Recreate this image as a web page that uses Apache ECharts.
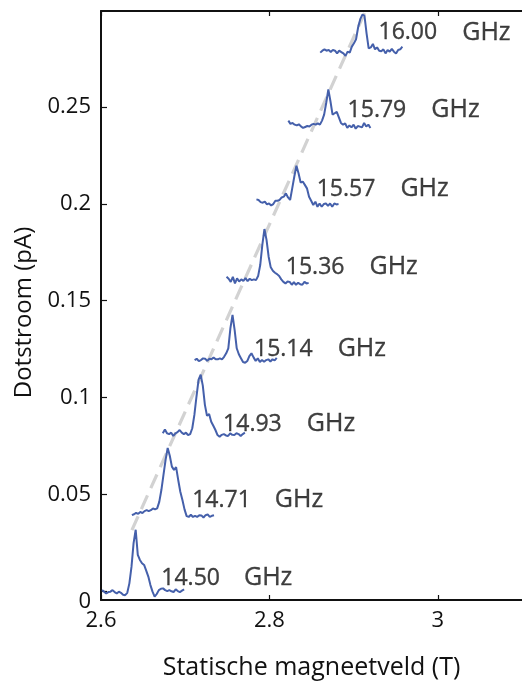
<!DOCTYPE html>
<html>
<head>
<meta charset="utf-8">
<script src="https://cdn.jsdelivr.net/npm/echarts@6/dist/echarts.min.js"></script>
<style>
html,body{margin:0;padding:0;background:#fff;}
#chart{width:522px;height:687px;}
</style>
</head>
<body>
<div id="chart"></div>
<script>
// ---- data ----
const freqLabels = ['14.50', '14.71', '14.93', '15.14', '15.36', '15.57', '15.79', '16.00'];
// start field (T) of each sweep, sampling step (T)
const xStart = [2.6012, 2.6367, 2.6734, 2.7112, 2.7491, 2.7846, 2.8225, 2.8604];
const xStep = 0.0025;
// vertical offset (pA) of each sweep
const baselines = [-0.0005, 0.0387, 0.0811, 0.1193, 0.1606, 0.2011, 0.2409, 0.2786];
// dot current relative to each sweep's offset (pA)
const trace1450 = [0.0010, 0.0002, -0.0007, 0.0000, 0.0002, 0.0010, 0.0000, -0.0007, 0.0002, -0.0004, -0.0014, -0.0016, -0.0004, 0.0045, 0.0130, 0.0253, 0.0322, 0.0192, 0.0166, 0.0149, 0.0140, 0.0111, 0.0080, 0.0036, 0.0002, -0.0024, -0.0010, 0.0010, 0.0017, 0.0019, 0.0010, 0.0005, 0.0010, 0.0004, 0.0000, 0.0014, 0.0005, 0.0000, 0.0007, 0.0014];
const trace1471 = [0.0005, 0.0010, 0.0017, 0.0012, 0.0022, 0.0016, 0.0026, 0.0031, 0.0026, 0.0031, 0.0040, 0.0035, 0.0040, 0.0074, 0.0135, 0.0213, 0.0291, 0.0352, 0.0312, 0.0256, 0.0239, 0.0253, 0.0187, 0.0126, 0.0083, 0.0035, 0.0000, -0.0004, 0.0007, -0.0004, 0.0002, -0.0004, 0.0005, 0.0004, -0.0007, 0.0005, 0.0009, -0.0004, 0.0002, 0.0005];
const trace1493 = [0.0004, 0.0024, 0.0004, 0.0000, 0.0007, -0.0010, 0.0004, 0.0010, 0.0021, 0.0007, 0.0000, 0.0007, -0.0005, 0.0000, 0.0030, 0.0099, 0.0194, 0.0281, 0.0307, 0.0250, 0.0151, 0.0094, 0.0104, 0.0064, 0.0043, 0.0021, -0.0005, -0.0014, -0.0004, 0.0000, -0.0007, -0.0010, 0.0004, -0.0004, -0.0005, 0.0004, 0.0000, -0.0010, 0.0000, 0.0007];
const trace1514 = [0.0000, 0.0007, -0.0005, 0.0000, 0.0009, 0.0007, -0.0004, 0.0007, 0.0004, 0.0014, 0.0004, 0.0004, 0.0009, 0.0004, 0.0017, 0.0035, 0.0061, 0.0165, 0.0234, 0.0156, 0.0061, 0.0030, 0.0010, -0.0010, -0.0014, -0.0005, 0.0021, 0.0035, 0.0014, -0.0004, 0.0009, -0.0010, 0.0000, -0.0009, 0.0000, 0.0004, -0.0007, 0.0004, -0.0002, 0.0012];
const trace1536 = [0.0017, 0.0007, -0.0009, 0.0017, -0.0017, 0.0009, -0.0007, 0.0004, -0.0004, 0.0010, -0.0005, 0.0007, 0.0000, 0.0004, 0.0000, 0.0021, 0.0078, 0.0182, 0.0264, 0.0208, 0.0121, 0.0066, 0.0048, 0.0038, 0.0031, 0.0021, 0.0004, -0.0009, -0.0017, -0.0007, -0.0009, -0.0024, -0.0010, -0.0024, -0.0014, -0.0021, -0.0024, -0.0009, -0.0017, -0.0014];
const trace1557 = [0.0012, 0.0009, -0.0002, -0.0005, 0.0000, -0.0014, -0.0009, -0.0019, -0.0012, 0.0005, 0.0005, 0.0009, 0.0022, 0.0026, 0.0043, 0.0022, 0.0009, 0.0069, 0.0130, 0.0186, 0.0147, 0.0099, 0.0104, 0.0087, 0.0069, 0.0026, 0.0005, -0.0017, 0.0000, -0.0026, -0.0009, -0.0026, -0.0012, -0.0009, -0.0022, -0.0009, -0.0026, -0.0009, -0.0014, -0.0012];
const trace1579 = [0.0021, 0.0004, 0.0009, 0.0000, -0.0004, 0.0002, -0.0009, -0.0017, -0.0012, -0.0007, -0.0009, 0.0000, 0.0004, 0.0000, 0.0007, 0.0000, 0.0021, 0.0052, 0.0113, 0.0182, 0.0121, 0.0052, 0.0059, 0.0066, 0.0038, 0.0009, 0.0000, 0.0007, -0.0017, -0.0004, -0.0014, 0.0000, -0.0021, -0.0007, -0.0010, -0.0014, 0.0009, -0.0009, 0.0000, -0.0017];
const trace1600 = [-0.0005, 0.0005, 0.0012, 0.0005, 0.0009, -0.0002, 0.0009, 0.0005, -0.0009, 0.0005, -0.0002, -0.0009, -0.0022, 0.0000, -0.0005, 0.0026, 0.0043, 0.0064, 0.0126, 0.0168, 0.0191, 0.0186, 0.0095, 0.0017, 0.0022, 0.0040, 0.0012, 0.0022, 0.0005, 0.0002, 0.0012, -0.0009, 0.0009, 0.0000, 0.0014, 0.0000, -0.0009, 0.0009, 0.0012, 0.0026];
const traces = [trace1450, trace1471, trace1493, trace1514, trace1536, trace1557, trace1579, trace1600];
// guide line through the resonance peaks
const fitX = [2.6367, 2.9136];
const fitY = [0.0315, 0.2991];
// frequency annotation anchors
const labelX = [2.6710, 2.7077, 2.7444, 2.7811, 2.8189, 2.8556, 2.8923, 2.9290];
const unitX = [2.7692, 2.8059, 2.8438, 2.8805, 2.9183, 2.9550, 2.9917, 3.0284];
const labelY = [0.0067, 0.0470, 0.0863, 0.1250, 0.1674, 0.2076, 0.2484, 0.2885];
// axis ticks
const xTicks = [2.6, 2.8, 3.0];
const yTicks = [0, 0.05, 0.1, 0.15, 0.2, 0.25];

// ---- chart ----
const FONT = 'Open Sans';
const TXT = '#111111';
const chart = echarts.init(document.getElementById('chart'), null, {renderer: 'canvas'});

const series = [];
series.push({
  type: 'line', name: 'fit', z: 1,
  data: fitX.map((x, i) => [x, fitY[i]]),
  showSymbol: false, symbol: 'none',
  lineStyle: {color: '#d2d2d2', width: 3.2, type: [15, 8]},
  silent: true
});
traces.forEach((tr, k) => {
  series.push({
    type: 'line', name: freqLabels[k], z: 3,
    data: tr.map((v, i) => [xStart[k] + i * xStep, baselines[k] + v]),
    showSymbol: false, symbol: 'none',
    lineStyle: {color: '#4560ab', width: 2},
    silent: true
  });
});
const annoText = {show: true, position: 'right', distance: 0, color: TXT, fontFamily: FONT,
  textBorderColor: TXT, textBorderWidth: 0.35};
series.push({
  type: 'scatter', z: 5, symbolSize: 1,
  itemStyle: {color: 'transparent'},
  data: freqLabels.map((t, i) => ({value: [labelX[i], labelY[i]], label: {formatter: t}})),
  label: Object.assign({fontSize: 23}, annoText),
  silent: true
});
series.push({
  type: 'scatter', z: 5, symbolSize: 1,
  itemStyle: {color: 'transparent'},
  data: unitX.map((x, i) => [x, labelY[i]]),
  label: Object.assign({fontSize: 25, formatter: 'GHz'}, annoText),
  silent: true
});

const axisLine = {show: true, onZero: false, lineStyle: {color: TXT, width: 2}};
chart.setOption({
  animation: false,
  backgroundColor: '#ffffff',
  grid: {left: 101, right: -1.5, top: 11, bottom: 87, containLabel: false},
  xAxis: [{
    type: 'value', position: 'bottom', min: 2.6, max: 3.1,
    axisLine: axisLine,
    axisTick: {show: true, inside: true, length: 5, customValues: xTicks, lineStyle: {color: TXT, width: 1.2}},
    axisLabel: {show: true, customValues: xTicks, margin: 10, color: TXT, fontFamily: FONT, fontSize: 22,
      formatter: v => String(parseFloat(v.toFixed(2)))},
    splitLine: {show: false},
    name: 'Statische magneetveld (T)', nameLocation: 'middle', nameGap: 55,
    nameTextStyle: {color: TXT, fontFamily: FONT, fontSize: 25}
  }, {
    type: 'value', position: 'top', min: 2.6, max: 3.1,
    axisLine: axisLine,
    axisTick: {show: true, inside: true, length: 5, customValues: xTicks, lineStyle: {color: TXT, width: 1.2}},
    axisLabel: {show: false},
    splitLine: {show: false}
  }],
  yAxis: [{
    type: 'value', position: 'left', min: -0.0046, max: 0.2996,
    axisLine: axisLine,
    axisTick: {show: true, inside: true, length: 6, customValues: yTicks, lineStyle: {color: TXT, width: 1.2}},
    axisLabel: {show: true, customValues: yTicks, margin: 10, color: TXT, fontFamily: FONT, fontSize: 22,
      formatter: v => (Math.abs(v) < 1e-9 ? '{z|0}' : String(parseFloat(v.toFixed(2)))),
      rich: {z: {fontFamily: FONT, fontSize: 22, color: TXT, padding: [22, 0, 0, 0]}}},
    splitLine: {show: false},
    name: 'Dotstroom (pA)', nameLocation: 'middle', nameGap: 62, nameRotate: 90,
    nameTextStyle: {color: TXT, fontFamily: FONT, fontSize: 24, padding: [0, 14, 0, 0]}
  }],
  series: series
});
</script>
</body>
</html>
